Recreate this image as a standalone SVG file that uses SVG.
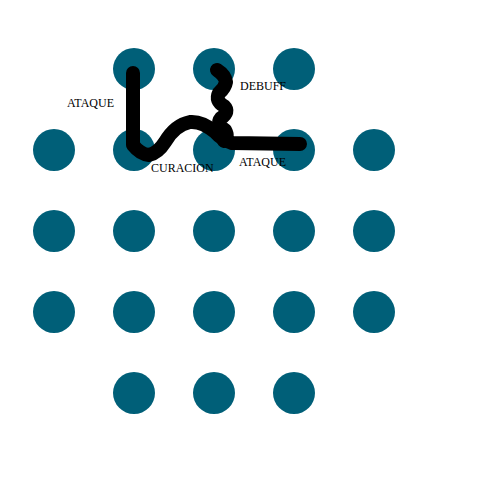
<svg xmlns="http://www.w3.org/2000/svg" width="480" height="480" viewBox="0 0 480 480">
<style>
.dot{fill:#005f78}
.t{font-family:"Liberation Serif",serif;font-size:12px;fill:#000}
.p{fill:none;stroke:#000;stroke-width:14;stroke-linecap:round;stroke-linejoin:round}
</style>
<rect width="480" height="480" fill="#fff"/>
<g id="dots">
<circle class="dot" cx="134" cy="69" r="21"/><circle class="dot" cx="214" cy="69" r="21"/><circle class="dot" cx="294" cy="69" r="21"/>
<circle class="dot" cx="54" cy="150" r="21"/><circle class="dot" cx="134" cy="150" r="21"/><circle class="dot" cx="214" cy="150" r="21"/><circle class="dot" cx="294" cy="150" r="21"/><circle class="dot" cx="374" cy="150" r="21"/>
<circle class="dot" cx="54" cy="231" r="21"/><circle class="dot" cx="134" cy="231" r="21"/><circle class="dot" cx="214" cy="231" r="21"/><circle class="dot" cx="294" cy="231" r="21"/><circle class="dot" cx="374" cy="231" r="21"/>
<circle class="dot" cx="54" cy="312" r="21"/><circle class="dot" cx="134" cy="312" r="21"/><circle class="dot" cx="214" cy="312" r="21"/><circle class="dot" cx="294" cy="312" r="21"/><circle class="dot" cx="374" cy="312" r="21"/>
<circle class="dot" cx="134" cy="393" r="21"/><circle class="dot" cx="214" cy="393" r="21"/><circle class="dot" cx="294" cy="393" r="21"/>
</g>
<g id="connectors">
<path class="p" d="M133,73 L133,145 Q140,154 149,155 Q158,153 165,142 Q175,125 190,122 Q202,121 215,132 Q222,140 232,143 L300,144"/>
<path class="p" d="M217,70 Q225,75 226,82 Q225,88 219,93 Q215,101 224,106 Q230,112 221,118 Q216,124 225,130 Q229,137 224,141"/>
</g>
<g id="labels">
<text class="t" x="67" y="107">ATAQUE</text>
<text class="t" x="240" y="90">DEBUFF</text>
<text class="t" x="151" y="172">CURACION</text>
<text class="t" x="239" y="166">ATAQUE</text>
</g>
</svg>
